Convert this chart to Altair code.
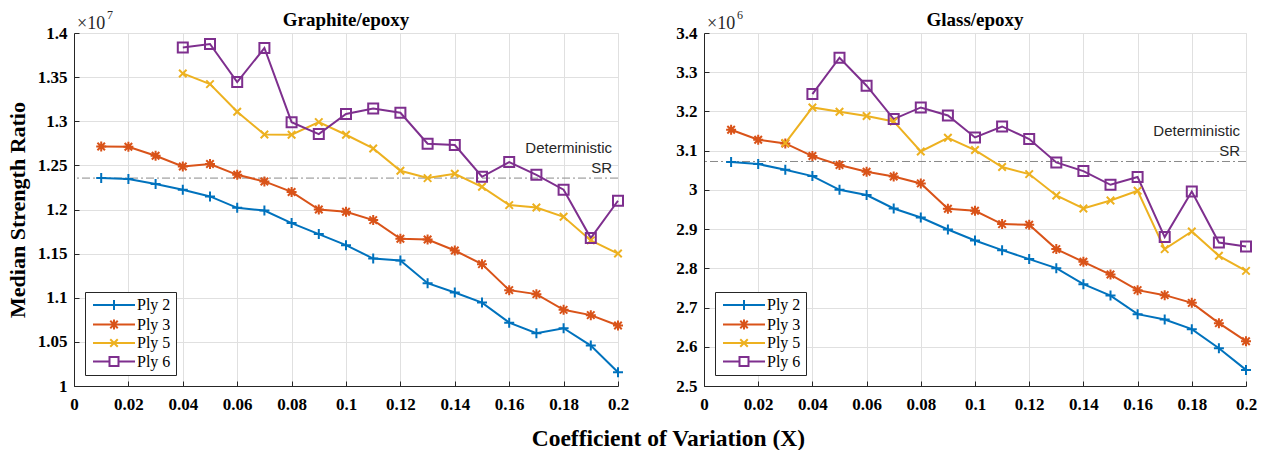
import altair as alt
import pandas as pd

# ---------------- data ----------------
cov = [0.01, 0.02, 0.03, 0.04, 0.05, 0.06, 0.07, 0.08, 0.09, 0.10,
       0.11, 0.12, 0.13, 0.14, 0.15, 0.16, 0.17, 0.18, 0.19, 0.20]
series = ["Ply 2", "Ply 3", "Ply 5", "Ply 6"]

# Graphite/epoxy, values in units of 1e7
gr_ply2 = [1.2356, 1.2345, 1.2288, 1.2223, 1.2148, 1.2019, 1.1989, 1.1846, 1.1721, 1.1596,
           1.1444, 1.1422, 1.1165, 1.1059, 1.0945, 1.0718, 1.0598, 1.0655, 1.0458, 1.0156]
gr_ply3 = [1.2714, 1.2711, 1.2609, 1.2488, 1.2515, 1.2393, 1.2318, 1.2199, 1.2000, 1.1974,
           1.1880, 1.1668, 1.1660, 1.1535, 1.1381, 1.1086, 1.1041, 1.0863, 1.0803, 1.0685]
gr_ply5 = [None, None, None, 1.3542, 1.3421, 1.3108, 1.2850, 1.2847, 1.2990, 1.2847,
           1.2692, 1.2439, 1.2356, 1.2405, 1.2257, 1.2050, 1.2023, 1.1917, 1.1650, 1.1501]
gr_ply6 = [None, None, None, 1.3837, 1.3875, 1.3444, 1.3830, 1.2990, 1.2855, 1.3082,
           1.3145, 1.3096, 1.2745, 1.2730, 1.2371, 1.2537, 1.2393, 1.2225, 1.1676, 1.2099]
gr_det = 1.2356

# Glass/epoxy, values in units of 1e6
gl_ply2 = [3.0709, 3.0658, 3.0513, 3.0352, 3.0003, 2.9870, 2.9526, 2.9296, 2.8990, 2.8709,
           2.8464, 2.8235, 2.8005, 2.7597, 2.7306, 2.6832, 2.6694, 2.6449, 2.5964, 2.5411]
gl_ply3 = [3.1533, 3.1278, 3.1184, 3.0862, 3.0633, 3.0462, 3.0342, 3.0165, 2.9518, 2.9467,
           2.9128, 2.9110, 2.8490, 2.8166, 2.7842, 2.7444, 2.7316, 2.7120, 2.6602, 2.6143]
gl_ply5 = [None, None, 3.1194, 3.2102, 3.1992, 3.1883, 3.1745, 3.0980, 3.1329, 3.1015,
           3.0582, 3.0403, 2.9857, 2.9526, 2.9730, 2.9977, 2.8490, 2.8939, 2.8319, 2.7936]
gl_ply6 = [None, None, None, 3.2444, 3.3370, 3.2656, 3.1806, 3.2102, 3.1898, 3.1337,
           3.1617, 3.1296, 3.0699, 3.0480, 3.0130, 3.0327, 2.8796, 2.9959, 2.8658, 2.8556]
gl_det = 3.0724

x_ticks = [0, 0.02, 0.04, 0.06, 0.08, 0.1, 0.12, 0.14, 0.16, 0.18, 0.2]
gr_y_ticks = [1.0, 1.05, 1.1, 1.15, 1.2, 1.25, 1.3, 1.35, 1.4]
gl_y_ticks = [2.5, 2.6, 2.7, 2.8, 2.9, 3.0, 3.1, 3.2, 3.3, 3.4]

# ---------------- styling ----------------
colors = ["#0072BD", "#D95319", "#EDB120", "#7E2F8E"]
SERIF = "Liberation Serif"
SANS = "Liberation Sans"
marker_paths = [
    "M-1,0H1M0,-1V1",
    "M-1,0H1M0,-1V1M-0.75,-0.75L0.75,0.75M-0.75,0.75L0.75,-0.75",
    "M-0.75,-0.75L0.75,0.75M-0.75,0.75L0.75,-0.75",
    "square",
]
legend_paths = [
    "M-4.2,0H4.2M0,-1V1",
    "M-4.2,0H4.2M0,-1V1M-0.75,-0.75L0.75,0.75M-0.75,0.75L0.75,-0.75",
    "M-4.2,0H4.2M-0.75,-0.75L0.75,0.75M-0.75,0.75L0.75,-0.75",
    "M-4.2,0H-0.9M0.9,0H4.2M-0.9,-0.9H0.9V0.9H-0.9Z",
]


def make_df(cols):
    rows = []
    for name, vals in zip(series, cols):
        for xv, yv in zip(cov, vals):
            if yv is not None:
                rows.append({"cov": xv, "value": yv, "series": name})
    return pd.DataFrame(rows)


def panel(df, det, title, exponent, ydom, yticks, ytitle, width):
    legend = alt.Legend(
        title=None, orient="bottom-left", offset=11,
        labelFont=SERIF, labelFontSize=16, labelColor="black",
        symbolSize=100, symbolStrokeWidth=2, symbolOffset=16, labelOffset=15,
        symbolType="circle",
        rowPadding=1.5, padding=5, strokeColor="#262626", fillColor="white",
        cornerRadius=0,
    )
    xenc = alt.X("cov:Q", scale=alt.Scale(domain=[0, 0.2], nice=False), title=None,
                 axis=alt.Axis(values=x_ticks, labelExpr="format(datum.value, '.2~f')",
                               labelFont=SERIF, labelFontSize=17, labelFontWeight="bold",
                               labelColor="black", labelFlush=False, labelOverlap=False,
                               labelPadding=15, tickSize={"expr": "-5"}, tickColor="#262626",
                               domainColor="#262626", gridColor="#e0e0e0"))
    yaxis_kwargs = dict(values=yticks, labelExpr="format(datum.value, '.2~f')",
                        labelFont=SERIF, labelFontSize=17, labelFontWeight="bold",
                        labelColor="black", labelFlush=False, labelOverlap=False,
                        labelPadding=12, tickSize={"expr": "-5"}, tickColor="#262626",
                        domainColor="#262626", gridColor="#e0e0e0")
    if ytitle:
        yaxis = alt.Axis(title=ytitle, titleFont=SERIF, titleFontSize=22,
                         titleFontWeight="bold", titleColor="black", titlePadding=8,
                         **yaxis_kwargs)
    else:
        yaxis = alt.Axis(title=None, **yaxis_kwargs)
    yenc = alt.Y("value:Q", scale=alt.Scale(domain=ydom, nice=False, zero=False), axis=yaxis)
    cscale = alt.Scale(domain=series, range=colors)
    cenc = alt.Color("series:N", scale=cscale, legend=legend)

    base = alt.Chart(df)
    det_df = pd.DataFrame({"value": [det]})
    det_rule = alt.Chart(det_df).mark_rule(color="#8a8a8a", strokeWidth=1,
                                           strokeDash=[8, 3, 2, 3]).encode(y=yenc)
    det_text1 = alt.Chart(det_df).mark_text(align="right", baseline="middle", dx=-6, dy=-30,
                                            font=SANS, fontSize=15, color="#262626").encode(
        y=yenc, x=alt.value(width), text=alt.value("Deterministic"))
    det_text2 = alt.Chart(det_df).mark_text(align="right", baseline="middle", dx=-6, dy=-10,
                                            font=SANS, fontSize=15, color="#262626").encode(
        y=yenc, x=alt.value(width), text=alt.value("SR"))

    lines = base.mark_line(strokeWidth=2).encode(x=xenc, y=yenc, color=cenc)
    layers = [det_rule, det_text1, det_text2, lines]
    for s, p in zip(series, marker_paths):
        layers.append(
            base.transform_filter(alt.datum.series == s)
            .mark_point(shape=p, filled=False, strokeWidth=2, size=100, opacity=1)
            .encode(x=xenc, y=yenc, color=cenc)
        )
    dummy = base.transform_filter("false").mark_point(filled=False, strokeWidth=2,
                                                      opacity=1).encode(
        x=xenc, y=yenc, color=cenc,
        shape=alt.Shape("series:N", scale=alt.Scale(domain=series, range=legend_paths),
                        legend=legend),
    )
    layers.append(dummy)
    ttl = alt.Chart(det_df).mark_text(align="center", baseline="alphabetic", font=SERIF,
                                      fontSize=19, fontWeight="bold", color="black").encode(
        x=alt.value(width / 2), y=alt.value(-7), text=alt.value(title))
    mult = alt.Chart(det_df).mark_text(align="left", baseline="alphabetic", font=SERIF,
                                       fontSize=18, color="#262626").encode(
        x=alt.value(3), y=alt.value(-4), text=alt.value("\u00d710"))
    sup = alt.Chart(det_df).mark_text(align="left", baseline="alphabetic", font=SERIF,
                                      fontSize=12, color="#262626").encode(
        x=alt.value(33), y=alt.value(-14), text=alt.value(exponent))
    layers += [ttl, mult, sup]
    return alt.layer(*layers).properties(width=width, height=353)


left = panel(make_df([gr_ply2, gr_ply3, gr_ply5, gr_ply6]), gr_det, "Graphite/epoxy", "7",
             [1.0, 1.4], gr_y_ticks, "Median Strength Ratio", 544)
right = panel(make_df([gl_ply2, gl_ply3, gl_ply5, gl_ply6]), gl_det, "Glass/epoxy", "6",
              [2.5, 3.4], gl_y_ticks, None, 542)

chart = alt.hconcat(left, right, spacing=45).resolve_scale(
    color="independent", shape="independent"
).properties(
    title=alt.TitleParams("Coefficient of Variation (X)", orient="bottom", anchor="middle",
                          font=SERIF, fontSize=23.5, fontWeight="bold", color="black",
                          offset=14, dx=37),
    padding={"left": 5, "top": 8, "right": 3, "bottom": 5},
).configure_view(stroke=None).configure(background="white")

chart.save("out.html", embed_options={"renderer": "svg", "actions": False})
